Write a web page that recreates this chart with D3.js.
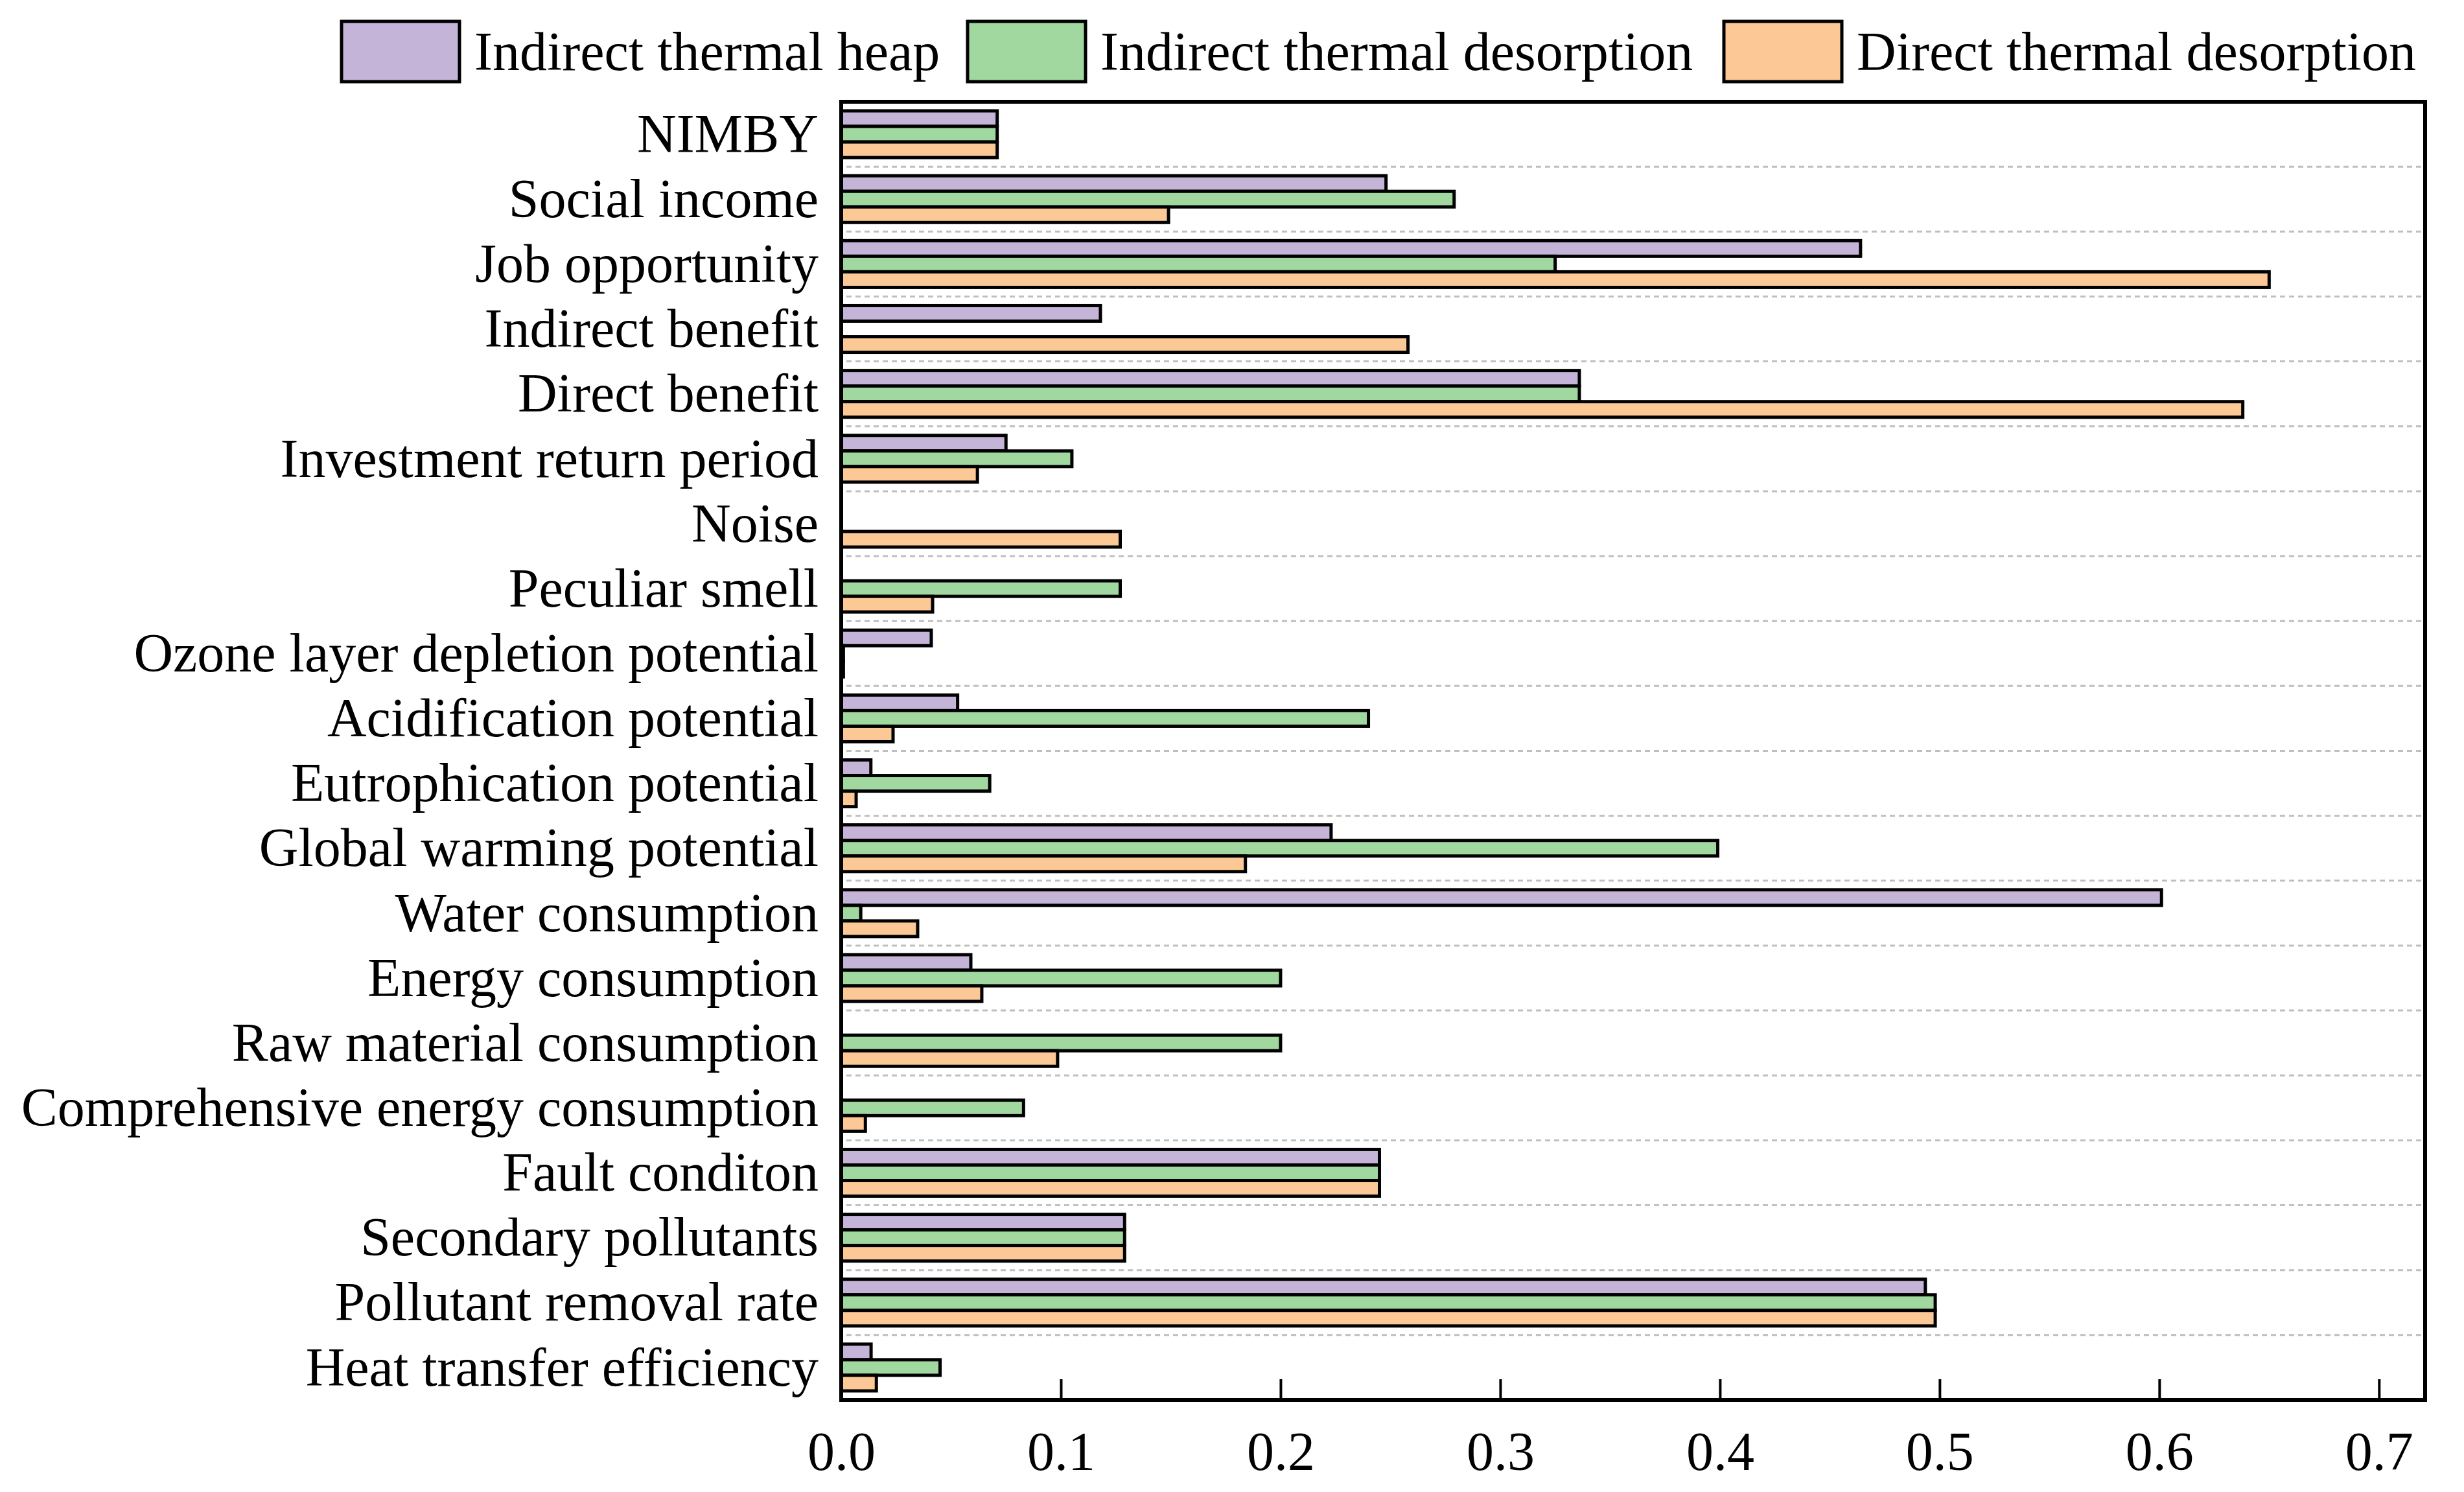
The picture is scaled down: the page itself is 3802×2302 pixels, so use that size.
<!DOCTYPE html>
<html>
<head>
<meta charset="utf-8">
<script src="https://cdn.jsdelivr.net/npm/d3@7"></script>
<style>
  body { margin: 0; background: #fff; }
  text { font-family: "Liberation Serif", "Times New Roman", serif; }
</style>
</head>
<body>
<svg width="3802" height="2302"></svg>
<script>
// Categories, top to bottom
const categories = [
  "NIMBY", "Social income", "Job opportunity", "Indirect benefit", "Direct benefit",
  "Investment return period", "Noise", "Peculiar smell", "Ozone layer depletion potential",
  "Acidification potential", "Eutrophication potential", "Global warming potential",
  "Water consumption", "Energy consumption", "Raw material consumption",
  "Comprehensive energy consumption", "Fault conditon", "Secondary pollutants",
  "Pollutant removal rate", "Heat transfer efficiency"
];

const seriesNames = ["Indirect thermal heap", "Indirect thermal desorption", "Direct thermal desorption"];

// Values
const thermalHeap = [0.071, 0.248, 0.464, 0.118, 0.336, 0.075, 0, 0, 0.041, 0.053, 0.0135, 0.223,
  0.601, 0.059, 0, 0, 0.245, 0.129, 0.4935, 0.0136];
const indirectDesorption = [0.071, 0.279, 0.325, 0, 0.336, 0.105, 0, 0.127, 0.001, 0.240, 0.0676, 0.399,
  0.0089, 0.200, 0.200, 0.083, 0.245, 0.129, 0.498, 0.045];
const directDesorption = [0.071, 0.149, 0.650, 0.258, 0.638, 0.062, 0.127, 0.0416, 0.001, 0.0236, 0.0068, 0.184,
  0.0348, 0.064, 0.0985, 0.011, 0.245, 0.129, 0.498, 0.016];

const xTicks = [0, 0.1, 0.2, 0.3, 0.4, 0.5, 0.6, 0.7];
const colors = ["#c4b4d8", "#a0d8a0", "#fcc896"];

const seriesValues = [thermalHeap, indirectDesorption, directDesorption];

const svg = d3.select("svg");
const margin = { top: 157, right: 60, bottom: 142, left: 1298 };
const width = +svg.attr("width");
const height = +svg.attr("height");
const fontSize = 84;

const xScale = d3.scaleLinear().domain([0, 0.721]).range([margin.left, width - margin.right]);
const yScale = d3.scaleBand().domain(categories).range([margin.top, height - margin.bottom]).padding(0);
const bw = yScale.bandwidth();
const inner = d3.scaleBand().domain(d3.range(3)).range([bw * 0.14, bw * 0.86]).padding(0);

// Dashed separators between categories
svg.append("g")
  .selectAll("line")
  .data(categories.slice(1))
  .join("line")
  .attr("x1", xScale(0) + 8)
  .attr("x2", xScale.range()[1] - 4)
  .attr("y1", d => yScale(d))
  .attr("y2", d => yScale(d))
  .attr("stroke", "#bfbfbf")
  .attr("stroke-width", 3)
  .attr("stroke-dasharray", "8,6");

// Bars
const rows = categories.map((c, i) => ({ cat: c, vals: seriesValues.map(s => s[i]) }));
const groups = svg.append("g")
  .selectAll("g")
  .data(rows)
  .join("g")
  .attr("transform", d => `translate(0, ${yScale(d.cat)})`);

groups.selectAll("rect")
  .data(d => d.vals.map((v, k) => ({ v, k })).filter(e => e.v > 0))
  .join("rect")
  .attr("x", xScale(0))
  .attr("y", d => inner(d.k))
  .attr("width", d => xScale(d.v) - xScale(0))
  .attr("height", inner.bandwidth())
  .attr("fill", d => colors[d.k])
  .attr("stroke", "#000")
  .attr("stroke-width", 5);

// Category labels
svg.append("g")
  .selectAll("text")
  .data(categories)
  .join("text")
  .attr("x", margin.left - 35)
  .attr("y", d => yScale(d) + bw / 2)
  .attr("dy", "0.33em")
  .attr("text-anchor", "end")
  .attr("font-size", fontSize)
  .text(d => d);

// X axis with inward ticks
const xAxis = d3.axisBottom(xScale)
  .tickValues(xTicks)
  .tickFormat(d3.format(".1f"))
  .tickSizeInner(-32)
  .tickSizeOuter(0)
  .tickPadding(48);

const xAxisGroup = svg.append("g")
  .attr("transform", `translate(0, ${height - margin.bottom})`)
  .call(xAxis);
xAxisGroup.select(".domain").remove();
xAxisGroup.selectAll(".tick line").attr("stroke-width", 4);
xAxisGroup.selectAll(".tick text")
  .attr("font-size", fontSize)
  .attr("dy", "0.71em");

// Frame
svg.append("rect")
  .attr("x", xScale.range()[0])
  .attr("y", margin.top)
  .attr("width", xScale.range()[1] - xScale.range()[0])
  .attr("height", height - margin.bottom - margin.top)
  .attr("fill", "none")
  .attr("stroke", "#000")
  .attr("stroke-width", 6);

// Legend
const legendItems = [
  { name: seriesNames[0], x: 527 },
  { name: seriesNames[1], x: 1493 },
  { name: seriesNames[2], x: 2660 }
];
const legend = svg.append("g");
legendItems.forEach((item, i) => {
  legend.append("rect")
    .attr("x", item.x)
    .attr("y", 33)
    .attr("width", 182)
    .attr("height", 93)
    .attr("fill", colors[i])
    .attr("stroke", "#000")
    .attr("stroke-width", 5);
  legend.append("text")
    .attr("x", item.x + 205)
    .attr("y", 108)
    .attr("font-size", fontSize)
    .text(item.name);
});
</script>
</body>
</html>
